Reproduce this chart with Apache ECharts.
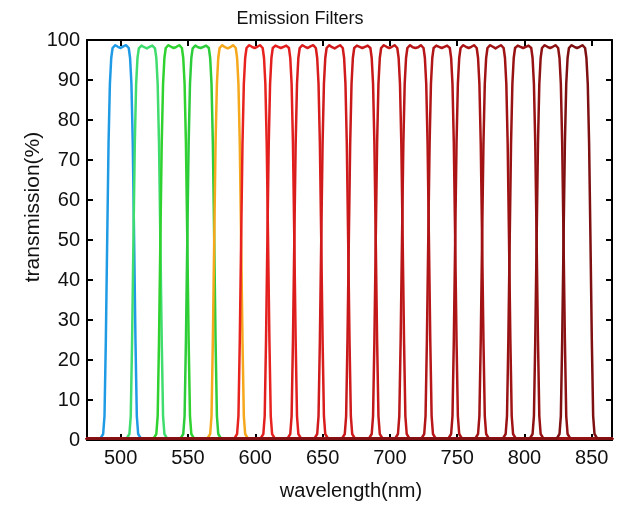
<!DOCTYPE html>
<html>
<head>
<meta charset="utf-8">
<script src="https://cdn.jsdelivr.net/npm/echarts@6/dist/echarts.min.js"></script>
<style>html,body{margin:0;padding:0;background:#fff}#c{width:625px;height:508px}</style>
</head>
<body>
<div id="c"></div>
<script>
// x tick labels (nm) and y ticks (%)
const xTicks = [500, 550, 600, 650, 700, 750, 800, 850];
const yTicks = [0, 10, 20, 30, 40, 50, 60, 70, 80, 90, 100];

// filter names
const filterNames = ['500','520','540','560','580','600','620','640','660','680','700','720','740','760','780','800','820','840'];

// wavelengths (nm) sampled for each filter
const wl500 = [475,485,487,488,489,490,491,492,493,494,496,498,500,502,504,506,507,508,509,510,511,512,513,515,865];
const wl520 = [475,504.5,506.5,507.5,508.5,509.5,510.5,511.5,512.5,513.5,515.5,517.5,519.5,521.5,523.5,525.5,526.5,527.5,528.5,529.5,530.5,531.5,532.5,534.5,865];
const wl540 = [475,524.5,526.5,527.5,528.5,529.5,530.5,531.5,532.5,533.5,535.5,537.5,539.5,541.5,543.5,545.5,546.5,547.5,548.5,549.5,550.5,551.5,552.5,554.5,865];
const wl560 = [475,544.5,546.5,547.5,548.5,549.5,550.5,551.5,552.5,553.5,555.5,557.5,559.5,561.5,563.5,565.5,566.5,567.5,568.5,569.5,570.5,571.5,572.5,574.5,865];
const wl580 = [475,564.5,566.5,567.5,568.5,569.5,570.5,571.5,572.5,573.5,575.5,577.5,579.5,581.5,583.5,585.5,586.5,587.5,588.5,589.5,590.5,591.5,592.5,594.5,865];
const wl600 = [475,584.5,586.5,587.5,588.5,589.5,590.5,591.5,592.5,593.5,595.5,597.5,599.5,601.5,603.5,605.5,606.5,607.5,608.5,609.5,610.5,611.5,612.5,614.5,865];
const wl620 = [475,604,606,607,608,609,610,611,612,613,615,617,619,621,623,625,626,627,628,629,630,631,632,634,865];
const wl640 = [475,624,626,627,628,629,630,631,632,633,635,637,639,641,643,645,646,647,648,649,650,651,652,654,865];
const wl660 = [475,644,646,647,648,649,650,651,652,653,655,657,659,661,663,665,666,667,668,669,670,671,672,674,865];
const wl680 = [475,664.5,666.5,667.5,668.5,669.5,670.5,671.5,672.5,673.5,675.5,677.5,679.5,681.5,683.5,685.5,686.5,687.5,688.5,689.5,690.5,691.5,692.5,694.5,865];
const wl700 = [475,684.5,686.5,687.5,688.5,689.5,690.5,691.5,692.5,693.5,695.5,697.5,699.5,701.5,703.5,705.5,706.5,707.5,708.5,709.5,710.5,711.5,712.5,714.5,865];
const wl720 = [475,704,706,707,708,709,710,711,712,713,715,717,719,721,723,725,726,727,728,729,730,731,732,734,865];
const wl740 = [475,723.5,725.5,726.5,727.5,728.5,729.5,730.5,731.5,732.5,734.5,736.5,738.5,740.5,742.5,744.5,745.5,746.5,747.5,748.5,749.5,750.5,751.5,753.5,865];
const wl760 = [475,743.5,745.5,746.5,747.5,748.5,749.5,750.5,751.5,752.5,754.5,756.5,758.5,760.5,762.5,764.5,765.5,766.5,767.5,768.5,769.5,770.5,771.5,773.5,865];
const wl780 = [475,763.5,765.5,766.5,767.5,768.5,769.5,770.5,771.5,772.5,774.5,776.5,778.5,780.5,782.5,784.5,785.5,786.5,787.5,788.5,789.5,790.5,791.5,793.5,865];
const wl800 = [475,784,786,787,788,789,790,791,792,793,795,797,799,801,803,805,806,807,808,809,810,811,812,814,865];
const wl820 = [475,804,806,807,808,809,810,811,812,813,815,817,819,821,823,825,826,827,828,829,830,831,832,834,865];
const wl840 = [475,824,826,827,828,829,830,831,832,833,835,837,839,841,843,845,846,847,848,849,850,851,852,854,865];

// transmission (%) read at those wavelengths
const t500 = [0.3,0.4,1.5,6,25,50,74,89,95.5,98,98.7,98.3,98,98.4,98.7,98,95.5,89,74,50,25,6,1.5,0.4,0.3];
const t520 = [0.3,0.4,1.5,6,25,50,74,89,95.5,97.9,98.6,98.2,97.9,98.3,98.6,97.9,95.5,89,74,50,25,6,1.5,0.4,0.3];
const t540 = [0.3,0.4,1.5,6,25,50,74,89,95.5,98,98.7,98.3,98,98.3,98.7,98,95.5,89,74,50,25,6,1.5,0.4,0.3];
const t560 = [0.3,0.4,1.5,6,25,50,74,89,95.5,97.9,98.6,98.2,98,98.3,98.6,98,95.5,89,74,50,25,6,1.5,0.4,0.3];
const t580 = [0.3,0.4,1.5,6,25,50,74,89,95.5,98,98.7,98.2,97.9,98.2,98.7,98,95.5,89,74,50,25,6,1.5,0.4,0.3];
const t600 = [0.3,0.4,1.5,6,25,50,74,89,95.5,98,98.7,98.3,98,98.3,98.7,98,95.5,89,74,50,25,6,1.5,0.4,0.3];
const t620 = [0.3,0.4,1.5,6,25,50,74,89,95.5,98,98.6,98.3,98,98.3,98.6,98,95.5,89,74,50,25,6,1.5,0.4,0.3];
const t640 = [0.3,0.4,1.5,6,25,50,74,89,95.5,98,98.7,98.3,98,98.4,98.7,98,95.5,89,74,50,25,6,1.5,0.4,0.3];
const t660 = [0.3,0.4,1.5,6,25,50,74,89,95.5,98,98.7,98.2,97.9,98.3,98.7,98,95.5,89,74,50,25,6,1.5,0.4,0.3];
const t680 = [0.3,0.4,1.5,6,25,50,74,89,95.5,98,98.6,98.3,98,98.3,98.6,98,95.5,89,74,50,25,6,1.5,0.4,0.3];
const t700 = [0.3,0.4,1.5,6,25,50,74,89,95.5,98,98.7,98.3,98,98.3,98.7,98,95.5,89,74,50,25,6,1.5,0.4,0.3];
const t720 = [0.3,0.4,1.5,6,25,50,74,89,95.5,98,98.7,98.2,98,98.2,98.7,98,95.5,89,74,50,25,6,1.5,0.4,0.3];
const t740 = [0.3,0.4,1.5,6,25,50,74,89,95.5,98,98.6,98.3,98,98.3,98.6,98,95.5,89,74,50,25,6,1.5,0.4,0.3];
const t760 = [0.3,0.4,1.5,6,25,50,74,89,95.5,98,98.7,98.3,98,98.3,98.7,98,95.5,89,74,50,25,6,1.5,0.4,0.3];
const t780 = [0.3,0.4,1.5,6,25,50,74,89,95.5,98,98.7,98.3,97.9,98.3,98.7,98,95.5,89,74,50,25,6,1.5,0.4,0.3];
const t800 = [0.3,0.4,1.5,6,25,50,74,89,95.5,98,98.6,98.3,98,98.3,98.6,98,95.5,89,74,50,25,6,1.5,0.4,0.3];
const t820 = [0.3,0.4,1.5,6,25,50,74,89,95.5,98,98.7,98.3,98,98.3,98.7,98,95.5,89,74,50,25,6,1.5,0.4,0.3];
const t840 = [0.3,0.4,1.5,6,25,50,74,89,95.5,98,98.7,98.3,98,98.3,98.7,98,95.5,89,74,50,25,6,1.5,0.4,0.3];

const wlList = [wl500,wl520,wl540,wl560,wl580,wl600,wl620,wl640,wl660,wl680,wl700,wl720,wl740,wl760,wl780,wl800,wl820,wl840];
const tList = [t500,t520,t540,t560,t580,t600,t620,t640,t660,t680,t700,t720,t740,t760,t780,t800,t820,t840];

const colors = ['#1f9be6','#3fdc6e','#2fd22f','#2ccc3a','#f5a81c',
  '#e8231f','#e21f1e','#d91c1c','#d01a1c','#c8181a','#c01719','#b81618',
  '#b01517','#a81416','#a01315','#981214','#8e1214','#7e1012'];

const FONT = '"Liberation Sans", Arial, Helvetica, sans-serif';

const series = filterNames.map((n, i) => ({
  name: n,
  type: 'line',
  xAxisIndex: 0,
  yAxisIndex: 0,
  showSymbol: false,
  symbol: 'none',
  smooth: false,
  lineStyle: { width: 2.5, color: colors[i], join: 'round', cap: 'round' },
  data: wlList[i].map((w, j) => [w, tList[i][j]]),
  z: 2
}));

const axisCommon = {
  type: 'value',
  splitLine: { show: false },
  axisLine: { show: true, onZero: false, lineStyle: { color: '#000', width: 2 } },
  axisTick: { show: true, inside: true, length: 6, lineStyle: { color: '#000', width: 2 } }
};

const option = {
  animation: false,
  backgroundColor: '#fff',
  grid: { left: 87, right: 13, top: 40, bottom: 68, containLabel: false },
  xAxis: [
    Object.assign({}, axisCommon, {
      position: 'bottom', min: 475, max: 865,
      axisTick: Object.assign({}, axisCommon.axisTick, { customValues: xTicks }),
      axisLabel: { customValues: xTicks, fontSize: 20, color: '#111', fontFamily: FONT, margin: 8 }
    }),
    Object.assign({}, axisCommon, {
      position: 'top', min: 475, max: 865,
      axisTick: Object.assign({}, axisCommon.axisTick, { customValues: xTicks }),
      axisLabel: { show: false }
    })
  ],
  yAxis: [
    Object.assign({}, axisCommon, {
      position: 'left', min: 0, max: 100, interval: 10,
      axisLabel: { fontSize: 20, color: '#111', fontFamily: FONT, margin: 7 }
    }),
    Object.assign({}, axisCommon, {
      position: 'right', min: 0, max: 100, interval: 10,
      axisLabel: { show: false }
    })
  ],
  graphic: [
    { type: 'text', x: 300, y: 19, style: { text: 'Emission Filters', font: '18px ' + FONT, fill: '#111', textAlign: 'center', textVerticalAlign: 'middle' } },
    { type: 'text', x: 351, y: 491, style: { text: 'wavelength(nm)', font: '20px ' + FONT, fill: '#111', textAlign: 'center', textVerticalAlign: 'middle' } },
    { type: 'text', x: 33, y: 207, rotation: Math.PI / 2, style: { text: 'transmission(%)', font: '21px ' + FONT, fill: '#111', textAlign: 'center', textVerticalAlign: 'middle' } }
  ],
  series: series
};

const chart = echarts.init(document.getElementById('c'), null, { renderer: 'canvas' });
chart.setOption(option);
</script>
</body>
</html>
